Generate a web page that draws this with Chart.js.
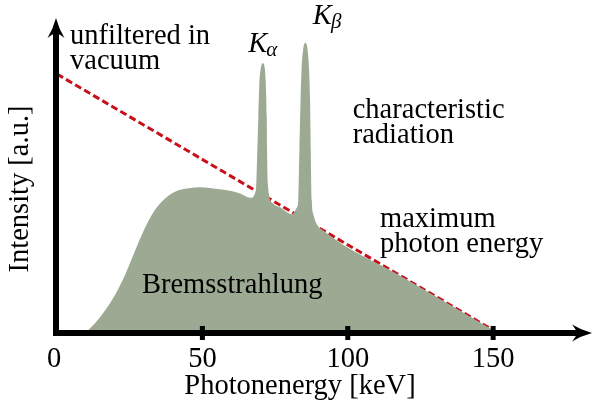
<!DOCTYPE html>
<html>
<head>
<meta charset="utf-8">
<script src="https://cdn.jsdelivr.net/npm/chart.js@4.4.1/dist/chart.umd.min.js"></script>
<style>
  html, body { margin: 0; padding: 0; background: #fff; }
  #wrap { width: 594px; height: 412px; }
</style>
</head>
<body>
<div id="wrap"><canvas id="spectrum" width="594" height="412"></canvas></div>
<script>
const energyTicks = [0, 50, 100, 150];
const energyMax = 184;
const intensityMax = 100;

// bremsstrahlung continuum with the K-alpha and K-beta lines on top of it
const spectrumEnergy = [
    9.05, 10.77, 15.38, 19.95, 23.39, 26.25, 29.14, 32.58, 36.02, 40.6, 45.17, 49.2, 56.1, 63.0, 66.4,
    68.46, 68.9, 69.25, 69.6, 70.0, 70.78, 71.53, 71.8, 72.14, 72.25, 72.49, 73.97,
    77.1, 80.85,
    82.4, 83.0, 83.36, 83.77, 84.1, 84.63, 85.42, 86.2, 86.7, 87.04, 87.28, 87.62, 88.25, 89.35, 91.0,
    120, 151.7
];
const spectrumIntensity = [
    0, 0.95, 5.71, 12.06, 18.41, 24.76, 31.11, 37.46, 41.68, 44.86, 45.94, 46.3, 45.6, 44.3, 42.9,
    45.4, 58.1, 68.7, 79.3, 83.5, 85.6, 83.5, 79.3, 68.7, 58.1, 47.6, 41.4,
    39.7, 37.7,
    39.7, 42.2, 58.1, 74.0, 83.5, 89.8, 92.16, 89.8, 83.5, 74.0, 58.1, 42.2, 37.46, 34.5, 32.9,
    17.16, 0
];

// maximum photon energy limit (unfiltered, in vacuum)
const limitEnergy = [0, 150];
const limitIntensity = [82.2, 0.9];

const xTitle = 'Photonenergy [keV]';
const yTitle = 'Intensity [a.u.]';

const notes = [
    { lines: ['unfiltered in', 'vacuum'], x: 4.47, y: 91.6 },
    { lines: ['characteristic', 'radiation'], x: 101.7, y: 68.3 },
    { lines: ['maximum', 'photon energy'], x: 111.1, y: 33.7 },
    { lines: ['Bremsstrahlung'], x: 29.2, y: 12.6 }
];
const lineLabels = [
    { main: 'K', sub: 'α', x: 65.8, y: 89.3 },
    { main: 'K', sub: 'β', x: 88.0, y: 98.1 }
];

const textFont = '28.5px "Liberation Serif"';
const symbolFont = 'italic 28.5px "Liberation Serif"';
const subFont = 'italic 21px "Liberation Serif"';

function toPoints(xs, ys) {
    return xs.map((x, i) => ({ x, y: ys[i] }));
}

function arrowHead(ctx, tipX, tipY, dx, dy) {
    // dx, dy: unit vector pointing along the arrow
    const len = 20, half = 8.5, notch = 5;
    const px = -dy, py = dx;
    const bx = tipX - dx * len, by = tipY - dy * len;
    const nx = tipX - dx * (len - notch), ny = tipY - dy * (len - notch);
    ctx.beginPath();
    ctx.moveTo(tipX, tipY);
    ctx.quadraticCurveTo(tipX - dx * len * 0.55 + px * half * 0.35, tipY - dy * len * 0.55 + py * half * 0.35,
        bx + px * half, by + py * half);
    ctx.quadraticCurveTo(nx + px * 2, ny + py * 2, nx, ny);
    ctx.quadraticCurveTo(nx - px * 2, ny - py * 2, bx - px * half, by - py * half);
    ctx.quadraticCurveTo(tipX - dx * len * 0.55 - px * half * 0.35, tipY - dy * len * 0.55 - py * half * 0.35,
        tipX, tipY);
    ctx.closePath();
    ctx.fill();
}

const axesPlugin = {
    id: 'arrowAxes',
    afterDraw(chart) {
        const ctx = chart.ctx;
        const xs = chart.scales.x, ys = chart.scales.y;
        const x0 = xs.getPixelForValue(0);
        const y0 = ys.getPixelForValue(0);
        const xEnd = xs.getPixelForValue(energyMax);
        const yEnd = ys.getPixelForValue(intensityMax);

        ctx.save();
        ctx.fillStyle = '#000';
        ctx.strokeStyle = '#000';
        ctx.lineWidth = 6;
        ctx.lineCap = 'butt';

        ctx.beginPath();
        ctx.moveTo(x0 - 4, y0);
        ctx.lineTo(xEnd - 12, y0);
        ctx.stroke();
        arrowHead(ctx, xEnd, y0, 1, 0);

        ctx.beginPath();
        ctx.moveTo(x0 - 1, y0 + 3);
        ctx.lineTo(x0 - 1, yEnd + 12);
        ctx.stroke();
        arrowHead(ctx, x0 - 1, yEnd, 0, -1);

        // tick marks and labels
        ctx.font = textFont;
        ctx.textAlign = 'center';
        ctx.textBaseline = 'alphabetic';
        energyTicks.forEach(v => {
            const px = xs.getPixelForValue(v);
            if (v > 0) ctx.fillRect(px - 2.5, y0 - 7, 5, 14);
            ctx.fillText(String(v), px - (v === 0 ? 3 : 0), y0 + 33.7);
        });

        // axis titles
        ctx.fillText(xTitle, 300, 394);
        ctx.save();
        ctx.translate(28, 189);
        ctx.rotate(-Math.PI / 2);
        ctx.fillText(yTitle, 0, 0);
        ctx.restore();

        // annotations
        ctx.textAlign = 'left';
        notes.forEach(n => {
            const px = xs.getPixelForValue(n.x);
            const py = ys.getPixelForValue(n.y);
            n.lines.forEach((line, i) => ctx.fillText(line, px, py + i * 24.8));
        });

        lineLabels.forEach(l => {
            const px = xs.getPixelForValue(l.x);
            const py = ys.getPixelForValue(l.y);
            ctx.font = symbolFont;
            ctx.fillText(l.main, px, py);
            const w = ctx.measureText(l.main).width;
            ctx.font = subFont;
            ctx.fillText(l.sub, px + w - 1, py + 4);
        });
        ctx.restore();
    }
};

new Chart(document.getElementById('spectrum'), {
    type: 'line',
    data: {
        datasets: [
            {
                label: 'spectrum',
                data: toPoints(spectrumEnergy, spectrumIntensity),
                backgroundColor: '#9caa94',
                borderColor: 'rgba(0,0,0,0)',
                borderWidth: 0,
                pointRadius: 0,
                fill: 'origin',
                cubicInterpolationMode: 'monotone'
            },
            {
                label: 'limit',
                data: toPoints(limitEnergy, limitIntensity),
                borderColor: '#c8101a',
                borderWidth: 3,
                borderDash: [7, 3.5],
                pointRadius: 0,
                fill: false
            }
        ]
    },
    options: {
        responsive: false,
        animation: false,
        layout: { padding: { left: 57, right: 2, top: 18, bottom: 79 } },
        plugins: { legend: { display: false }, tooltip: { enabled: false } },
        scales: {
            x: { type: 'linear', min: 0, max: energyMax, display: false },
            y: { type: 'linear', min: 0, max: intensityMax, display: false }
        }
    },
    plugins: [axesPlugin]
});
</script>
</body>
</html>
